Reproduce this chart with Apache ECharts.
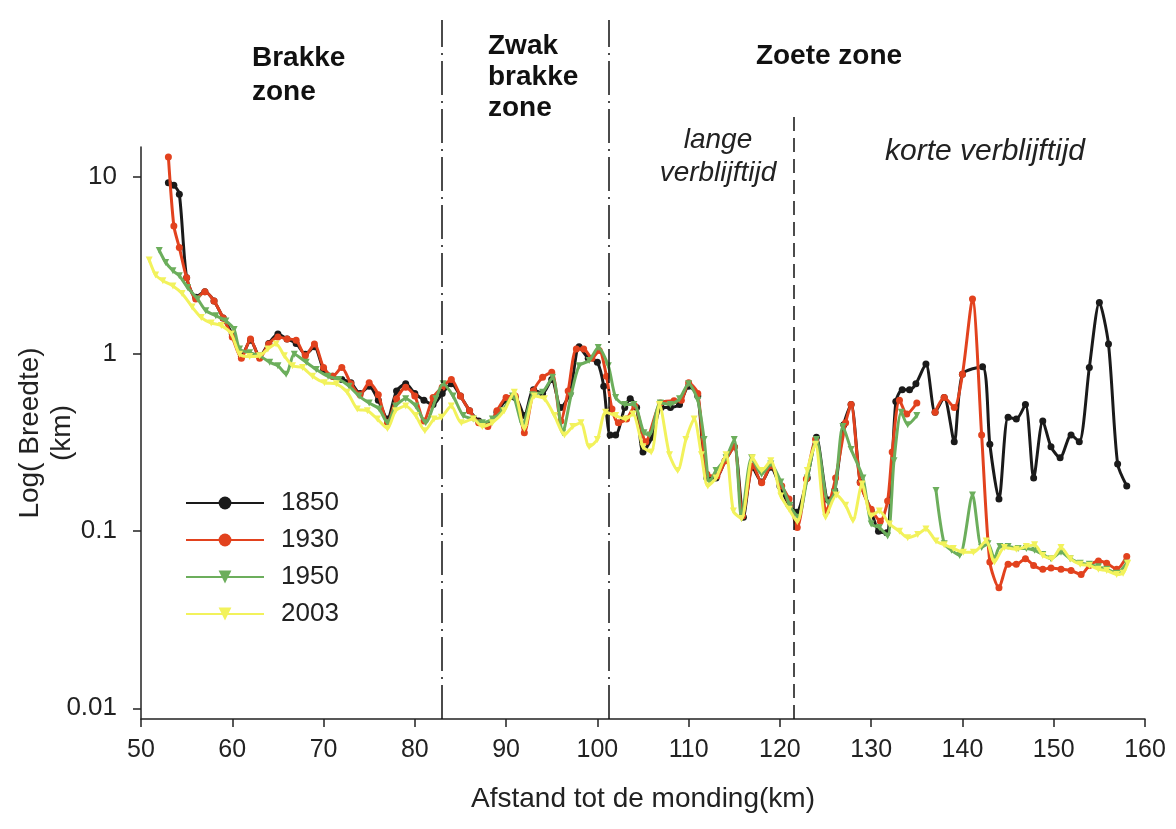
<!DOCTYPE html>
<html><head><meta charset="utf-8">
<script src="https://cdn.jsdelivr.net/npm/echarts@6/dist/echarts.min.js"></script>
<style>html,body{margin:0;padding:0;background:#fff}#c{width:1176px;height:829px}</style>
</head><body><div id="c"></div>
<script>
// ---------- data ----------
const seriesNames = ['1850', '1930', '1950', '2003'];

const x1850 = [53.0,53.6,54.2,55.0,56.0,57.0,58.0,59.0,60.0,61.0,62.0,63.0,64.0,65.0,66.0,67.0,68.0,69.0,70.0,71.0,72.0,73.0,74.0,75.0,76.0,77.0,78.0,79.0,80.0,81.0,82.0,83.0,84.0,85.0,86.0,87.0,88.0,89.0,90.0,91.0,92.0,93.0,94.0,95.0,96.0,97.0,98.0,99.0,100.0,100.7,101.4,102.0,103.0,103.6,104.3,105.0,106.0,107.0,108.0,109.0,110.0,111.0,112.0,113.0,114.0,115.0,116.0,117.0,118.0,119.0,120.0,121.0,121.8,123.0,124.0,125.3,126.0,127.0,127.8,128.8,130.0,130.8,131.7,132.7,133.4,134.2,134.9,136.0,137.0,138.0,139.1,140.0,142.2,143.0,144.0,145.0,145.9,146.9,147.8,148.8,149.7,150.7,151.9,152.8,153.9,155.0,156.0,157.0,158.0];
const y1850 = [9.3,9.0,8.0,2.7,2.1,2.25,2.0,1.6,1.3,0.97,1.2,0.97,1.15,1.3,1.22,1.15,1.0,1.1,0.82,0.75,0.72,0.69,0.6,0.66,0.55,0.43,0.62,0.68,0.6,0.55,0.52,0.6,0.68,0.58,0.48,0.42,0.4,0.47,0.55,0.57,0.45,0.63,0.6,0.72,0.5,0.6,1.1,0.95,0.9,0.66,0.35,0.35,0.5,0.56,0.5,0.28,0.34,0.5,0.5,0.52,0.66,0.58,0.2,0.2,0.25,0.3,0.12,0.23,0.19,0.23,0.18,0.14,0.128,0.2,0.34,0.15,0.17,0.4,0.52,0.19,0.13,0.1,0.098,0.54,0.63,0.63,0.68,0.88,0.47,0.57,0.32,0.77,0.85,0.31,0.152,0.44,0.43,0.52,0.2,0.42,0.3,0.26,0.35,0.32,0.84,1.96,1.14,0.24,0.18];

const x1930 = [53.0,53.6,54.2,55.0,56.0,57.0,58.0,59.0,60.0,61.0,62.0,63.0,64.0,65.0,66.0,67.0,68.0,69.0,70.0,71.0,72.0,73.0,74.0,75.0,76.0,77.0,78.0,79.0,80.0,81.0,82.0,83.0,84.0,85.0,86.0,87.0,88.0,89.0,90.0,91.0,92.0,93.0,94.0,95.0,96.0,96.8,97.7,98.5,99.4,100.2,101.0,101.6,102.3,103.2,104.1,105.3,106.9,108.4,109.2,110.0,111.0,112.0,113.1,114.0,115.0,115.9,117.1,118.0,119.0,120.2,121.0,121.9,122.9,123.9,125.1,126.1,127.2,127.8,128.8,130.0,131.0,131.8,132.3,133.1,133.9,135.0,136.0,137.0,138.0,139.1,140.0,141.1,142.1,143.0,144.0,145.0,145.9,146.9,147.8,148.8,149.7,150.8,151.9,153.0,153.9,154.9,155.8,156.9,158.0];
const y1930 = [13.0,5.3,4.0,2.7,2.05,2.25,2.0,1.6,1.25,0.95,1.22,0.95,1.14,1.25,1.22,1.2,0.98,1.14,0.84,0.75,0.84,0.68,0.59,0.69,0.59,0.41,0.56,0.65,0.58,0.42,0.57,0.65,0.72,0.58,0.48,0.41,0.39,0.48,0.57,0.58,0.36,0.62,0.74,0.79,0.42,0.62,1.07,1.07,0.95,1.05,0.75,0.49,0.41,0.43,0.51,0.32,0.53,0.545,0.55,0.69,0.6,0.21,0.205,0.25,0.3,0.122,0.234,0.188,0.234,0.18,0.152,0.105,0.197,0.33,0.13,0.2,0.41,0.52,0.188,0.133,0.114,0.148,0.28,0.55,0.46,0.53,null,0.47,0.57,0.5,0.77,2.05,0.35,0.067,0.048,0.065,0.065,0.07,0.064,0.061,0.062,0.061,0.06,0.057,0.064,0.068,0.066,0.061,0.072];

const x1950 = [52.0,52.7,53.5,54.2,55.1,56.2,57.1,58.2,59.3,60.2,60.8,61.9,63.0,64.1,65.0,65.9,66.8,68.1,69.2,70.5,71.7,72.8,73.9,75.0,76.1,77.0,77.9,79.0,80.1,81.2,82.3,83.1,84.2,85.3,86.4,87.4,88.5,89.6,90.7,91.8,92.9,94.0,95.1,96.2,97.1,98.0,99.1,100.1,101.2,102.0,103.0,104.0,105.1,105.7,106.9,108.0,109.0,110.0,111.0,111.7,112.3,113.0,114.1,115.0,115.8,116.9,118.0,119.0,120.1,121.1,122.0,123.0,124.0,125.3,126.0,126.9,127.8,129.1,130.0,130.9,131.8,132.5,133.3,134.0,135.0,136.0,137.1,138.0,138.8,139.7,141.1,142.1,142.8,143.5,144.1,145.0,146.1,147.0,147.9,148.8,149.7,150.8,151.8,152.9,153.9,154.9,155.8,156.9,158.0];
const y1950 = [3.85,3.3,2.96,2.77,2.38,2.05,1.76,1.65,1.54,1.38,1.07,1.02,0.98,0.9,0.86,0.77,1.0,0.9,0.82,0.75,0.72,0.66,0.58,0.53,0.49,0.41,0.51,0.56,0.51,0.41,0.56,0.68,0.58,0.45,0.43,0.41,0.43,0.48,0.58,0.4,0.59,0.61,0.74,0.36,0.58,0.86,0.92,1.09,0.86,0.57,0.52,0.52,0.36,0.35,0.53,0.52,0.56,0.68,0.55,0.33,0.19,0.22,0.26,0.33,0.118,0.26,0.21,0.24,0.19,0.14,0.12,0.2,0.33,0.145,0.165,0.39,0.29,0.2,0.11,0.105,0.094,0.25,0.47,0.4,0.45,null,0.17,0.085,0.078,0.073,0.16,0.081,0.085,0.07,0.082,0.082,0.08,0.08,0.078,0.074,0.07,0.076,0.07,0.066,0.065,0.063,0.061,0.058,0.066];

const x2003 = [50.9,51.6,52.4,53.5,54.5,55.6,56.6,57.7,58.8,59.9,60.8,61.9,63.0,63.9,64.8,65.7,66.6,67.7,68.8,70.1,71.4,72.6,73.7,74.8,75.9,77.0,77.9,79.0,80.1,81.1,82.1,82.9,84.0,85.1,86.4,87.4,88.5,89.8,90.9,92.0,93.1,94.2,95.3,96.4,97.3,98.2,99.1,100.0,100.9,102.0,103.1,103.9,105.0,105.9,106.8,107.9,108.8,109.7,110.6,111.4,112.1,113.0,114.1,114.9,115.8,117.0,118.0,119.0,120.1,121.0,121.9,123.0,123.9,125.0,126.2,127.2,128.0,129.0,130.0,130.9,132.0,133.1,134.0,135.1,136.0,137.1,138.0,139.0,140.1,141.2,142.6,143.5,144.6,145.9,147.0,147.9,148.8,149.8,150.8,151.8,152.9,153.9,154.9,155.8,156.9,157.6,158.1];
const y2003 = [3.4,2.8,2.6,2.43,2.2,1.85,1.61,1.5,1.45,1.3,1.0,0.97,0.98,1.07,1.14,0.98,0.86,0.84,0.75,0.69,0.68,0.61,0.49,0.48,0.43,0.38,0.48,0.51,0.45,0.37,0.43,0.44,0.51,0.41,0.43,0.39,0.41,0.48,0.61,0.38,0.58,0.56,0.45,0.35,0.39,0.41,0.3,0.33,0.47,0.45,0.43,0.46,0.3,0.28,0.52,0.27,0.22,0.33,0.43,0.27,0.18,0.2,0.27,0.13,0.118,0.26,0.22,0.25,0.158,0.133,0.113,0.22,0.31,0.12,0.16,0.14,0.115,0.185,0.122,0.13,0.11,0.1,0.092,0.096,0.103,0.088,0.084,0.08,0.076,0.076,0.088,0.067,0.081,0.079,0.082,0.084,0.073,0.07,0.081,0.07,0.065,0.064,0.061,0.06,0.057,0.058,0.066];

const yTickValues = [0.01, 0.1, 1, 10];
const zoneBounds = [83.0, 101.3];      // dash-dot boundaries
const subZoneBound = 121.5;            // dashed boundary
const zoneTitles = [['Brakke', 'zone'], ['Zwak', 'brakke', 'zone'], ['Zoete zone']];
const subZoneTitles = [['lange', 'verblijftijd'], ['korte verblijftijd']];
const xAxisTitle = 'Afstand tot de monding(km)';
const yAxisTitle = 'Log( Breedte)\n(km)';

// ---------- chart ----------
const FONT = "'Liberation Sans', Arial, sans-serif";
const colors = ['#1a1a1a', '#e2421e', '#6cae5c', '#f2f25c'];
const symbols = ['circle', 'circle', 'triangle', 'triangle'];
const xs = [x1850, x1930, x1950, x2003];
const ys = [y1850, y1930, y1950, y2003];

const chart = echarts.init(document.getElementById('c'), null, {renderer: 'canvas'});

const GRID = {left: 141, right: 31, top: 147, bottom: 110};

const lineSeries = seriesNames.map((name, k) => ({
  name: name,
  type: 'line',
  xAxisIndex: 0, yAxisIndex: 0,
  data: xs[k].map((x, i) => [x, ys[k][i] === null ? '-' : ys[k][i]]),
  connectNulls: false,
  smooth: 0.25,
  symbol: symbols[k],
  symbolRotate: k >= 2 ? 180 : 0,
  symbolSize: 7,
  lineStyle: {color: colors[k], width: 3},
  itemStyle: {color: colors[k]},
  z: 2 + k
}));

const t = (x, y, text, opts) => Object.assign({
  type: 'text', x: x, y: y, silent: true,
  style: Object.assign({text: text, fill: '#111', font: 'bold 28px ' + FONT, align: 'center', verticalAlign: 'middle'}, opts || {})
});

const graphics = [];
zoneTitles[0].forEach((s, i) => graphics.push(t(252, 58 + i * 34, s, {align: 'left'})));
zoneTitles[1].forEach((s, i) => graphics.push(t(488, 46 + i * 31, s, {align: 'left'})));
zoneTitles[2].forEach((s, i) => graphics.push(t(829, 56, s)));
subZoneTitles[0].forEach((s, i) => graphics.push(t(718, 140 + i * 33, s, {font: 'italic 28px ' + FONT, fill: '#222'})));
subZoneTitles[1].forEach((s, i) => graphics.push(t(985, 152, s, {font: 'italic 30px ' + FONT, fill: '#222'})));

chart.setOption({
  animation: false,
  backgroundColor: '#ffffff',
  textStyle: {fontFamily: FONT},
  legend: {
    data: seriesNames,
    orient: 'vertical',
    left: 185, top: 489, padding: 0,
    itemWidth: 78, itemHeight: 16, itemGap: 9,
    textStyle: {fontSize: 26, lineHeight: 28, color: '#222', fontFamily: FONT, padding: [0, 0, 0, 12]},
    inactiveColor: '#ccc'
  },
  grid: [
    Object.assign({containLabel: false, outerBoundsMode: 'none'}, GRID),
    {left: GRID.left, right: GRID.right, top: 20, bottom: GRID.bottom, containLabel: false, outerBoundsMode: 'none'}
  ],
  xAxis: [{
    type: 'value', gridIndex: 0, min: 50, max: 160, interval: 10,
    name: xAxisTitle, nameLocation: 'middle', nameGap: 66, nameMoveOverlap: false,
    nameTextStyle: {fontSize: 28, color: '#222', fontFamily: FONT},
    axisLine: {show: true, lineStyle: {color: '#222', width: 1.5}},
    axisTick: {show: true, inside: false, length: 8, lineStyle: {color: '#222', width: 1.5}},
    axisLabel: {fontSize: 25, color: '#222', margin: 19, fontFamily: FONT},
    splitLine: {show: false}
  }, {
    type: 'value', gridIndex: 1, min: 50, max: 160, show: false
  }],
  yAxis: [{
    type: 'log', logBase: 10, gridIndex: 0, min: 0.0087, max: 14.8,
    name: yAxisTitle, nameLocation: 'middle', nameGap: 63, nameRotate: 90, nameMoveOverlap: false,
    nameTextStyle: {fontSize: 28, color: '#222', lineHeight: 32, fontFamily: FONT},
    axisLine: {show: true, onZero: false, lineStyle: {color: '#222', width: 1.5}},
    axisTick: {show: true, length: 8, customValues: yTickValues, lineStyle: {color: '#222', width: 1.5}},
    axisLabel: {fontSize: 26, color: '#222', margin: 24, customValues: yTickValues, fontFamily: FONT,
      formatter: v => String(+Number(v).toPrecision(3))},
    splitLine: {show: false}
  }, {
    type: 'value', gridIndex: 1, min: 0, max: 1, show: false
  }],
  series: lineSeries.concat([{
    name: '_bounds', type: 'line', xAxisIndex: 1, yAxisIndex: 1,
    data: [[50, '-']], symbol: 'none', silent: true,
    markLine: {
      silent: true, symbol: 'none', label: {show: false},
      data: [
        [{coord: [zoneBounds[0], 0], lineStyle: {type: [34, 6, 2, 6], color: '#111', width: 1.5}}, {coord: [zoneBounds[0], 1]}],
        [{coord: [zoneBounds[1], 0], lineStyle: {type: [34, 6, 2, 6], color: '#111', width: 1.5}}, {coord: [zoneBounds[1], 1]}],
        [{coord: [subZoneBound, 0], lineStyle: {type: [14, 7], color: '#111', width: 1.5}}, {coord: [subZoneBound, 0.87]}]
      ]
    }
  }]),
  graphic: graphics
});
</script></body></html>
